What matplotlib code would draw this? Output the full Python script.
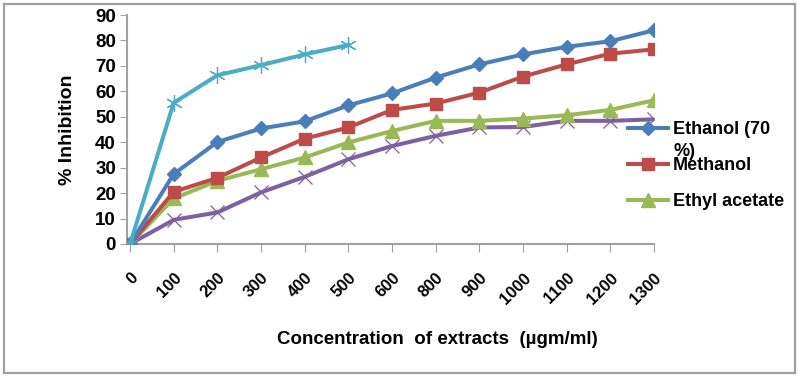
import matplotlib
matplotlib.use("Agg")
import matplotlib.pyplot as plt
from matplotlib.patches import Rectangle
import numpy as np

plt.rcParams['font.family'] = ['Liberation Sans', 'DejaVu Sans']
plt.rcParams['font.weight'] = 'bold'

categories = ["0", "100", "200", "300", "400", "500", "600", "800", "900",
              "1000", "1100", "1200", "1300"]
ethanol = [0, 27.5, 40.1, 45.4, 48.2, 54.5, 59.2, 65.4, 70.6, 74.5, 77.5, 79.7, 84.0]
methanol = [0, 20.5, 26.0, 34.0, 41.4, 45.8, 52.7, 55.2, 59.5, 65.8, 70.6, 74.8, 76.5]
ethyl_acetate = [0, 17.9, 24.8, 29.4, 34.0, 39.9, 44.4, 48.4, 48.4, 49.3, 50.6, 52.7, 56.5]
series4 = [0, 9.5, 12.4, 20.3, 26.4, 33.3, 38.5, 42.5, 45.8, 46.0, 48.4, 48.4, 49.0]
series5 = [0, 55.5, 66.3, 70.3, 74.5, 78.2]

fig = plt.figure(figsize=(7.98, 3.78), dpi=100)
ax = fig.add_axes([127/798, 1-244/378, (654-127)/798, (244-15)/378])

x = np.arange(len(categories))
lw = 2.9
ax.plot(x, ethanol, color='#4A7EBB', lw=lw, marker='D', ms=7.5, label='Ethanol (70', zorder=5)
ax.plot(x, methanol, color='#BE4B48', lw=lw, marker='s', ms=9, label='Methanol', zorder=4)
ax.plot(x, ethyl_acetate, color='#98B954', lw=lw, marker='^', ms=9.5, label='Ethyl acetate', zorder=3)
ax.plot(x, series4, color='#7D60A0', lw=lw, marker='x', ms=10, mew=0.9, zorder=2)
ax.plot(x[:len(series5)], series5, color='#4BACC6', lw=lw, marker=(6, 2, 0), ms=12, mew=0.9, zorder=6)

ax.set_xlim(-0.07, 12)
ax.set_ylim(0, 90)
ax.set_yticks(np.arange(0, 91, 10))
ax.set_xticks(x)
ax.set_xticklabels(categories, rotation=45, ha='right', va='top', rotation_mode='anchor',
                   fontsize=12, fontweight='bold')
ax.tick_params(axis='x', length=6, color='#a0a0a0', pad=13)
ax.tick_params(axis='y', length=5, color='#a0a0a0', labelsize=13.5, pad=3)
for lbl in ax.get_yticklabels():
    lbl.set_fontweight('bold')
for s in ['top', 'right']:
    ax.spines[s].set_visible(False)
for s in ['left', 'bottom']:
    ax.spines[s].set_color('#a0a0a0')
    ax.spines[s].set_linewidth(1.5)

ax.set_ylabel('% Inhibition', fontsize=14, fontweight='bold', labelpad=14)
fig.text(437/798, 1-340/378, 'Concentration  of extracts  (µgm/ml)', ha='center', va='center',
         fontsize=13.5, fontweight='bold')

leg = fig.legend(loc='upper left', bbox_to_anchor=(628/798, 1-121/378), frameon=False,
                 borderpad=0, borderaxespad=0, handlelength=2.2, handletextpad=0.28,
                 labelspacing=1.05, prop={'size': 13, 'weight': 'bold'})
fig.text(673/798, 1-151/378, '%)', ha='left', va='center', fontsize=13, fontweight='bold')

fig.patches.append(Rectangle((4/798, 1-373/378), (795-4)/798, (373-4)/378,
                             transform=fig.transFigure, fill=False, edgecolor='#a0a0a0', lw=1.6))

fig.savefig('out.png', dpi=100)
